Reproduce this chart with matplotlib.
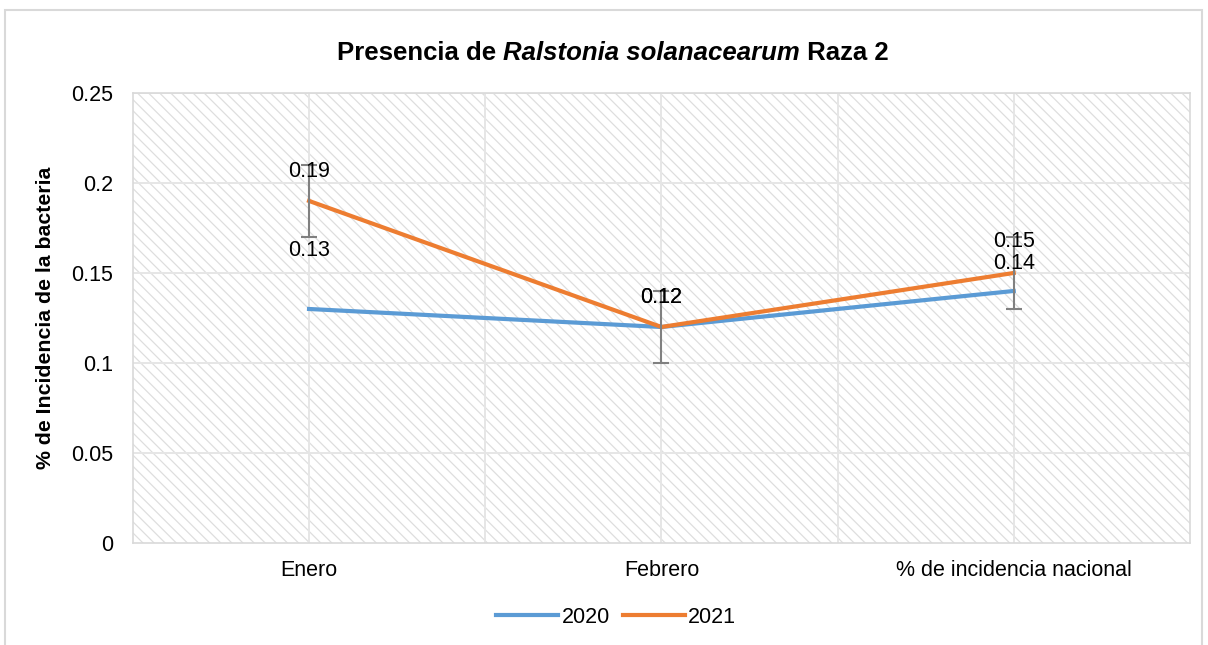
import matplotlib
matplotlib.use('Agg')
import matplotlib.pyplot as plt
from matplotlib.patches import Rectangle

# datos
categorias = ['Enero', 'Febrero', '% de incidencia nacional']
serie_2020 = [0.13, 0.12, 0.14]
serie_2021 = [0.19, 0.12, 0.15]
error_2021 = [0.02, 0.02, 0.02]
yticks = [0, 0.05, 0.1, 0.15, 0.2, 0.25]
ytick_labels = ['0', '0.05', '0.1', '0.15', '0.2', '0.25']

plt.rcParams['font.family'] = ['Liberation Sans', 'DejaVu Sans']
plt.rcParams['hatch.color'] = '#dedede'
plt.rcParams['hatch.linewidth'] = 0.9

azul = '#5B9BD5'
naranja = '#ED7D31'
gris = '#d9d9d9'
fs = 15.5

fig = plt.figure(figsize=(12.08, 6.45), dpi=100)
ax = fig.add_axes([0.110, 0.158, 0.875, 0.698])

# marco de la figura
fig.patches.append(Rectangle((0.004, -0.02), 0.991, 1.005, transform=fig.transFigure,
                             fill=False, edgecolor=gris, linewidth=1.5))

# fondo rayado
ax.patch.set_facecolor('white')
ax.patch.set_hatch('\\\\\\')
ax.patch.set_edgecolor('#dedede')

x = list(range(len(categorias)))

# rejilla
for yv in yticks[1:]:
    ax.axhline(yv, color='#e6e6e6', linewidth=1.4, zorder=1)
for xv in [0, 0.5, 1, 1.5, 2]:
    ax.axvline(xv, color='#e6e6e6', linewidth=1.4, zorder=1)

ax.plot(x, serie_2020, color=azul, linewidth=3, label='2020', zorder=3)
ax.plot(x, serie_2021, color=naranja, linewidth=3, label='2021', zorder=4)
ax.errorbar(x, serie_2021, yerr=error_2021, fmt='none', ecolor='#808080',
            elinewidth=1.5, capsize=6, capthick=1.5, zorder=5)

# etiquetas de datos
offsets_2020 = [42, 21, 20]
offsets_2021 = [21, 21, 22.5]
for xi, v, off in zip(x, serie_2020, offsets_2020):
    ax.annotate(f'{v:g}', (xi, v), xytext=(0, off), textcoords='offset points',
                ha='center', va='center', fontsize=fs, zorder=6)
for xi, v, off in zip(x, serie_2021, offsets_2021):
    ax.annotate(f'{v:g}', (xi, v), xytext=(0, off), textcoords='offset points',
                ha='center', va='center', fontsize=fs, zorder=6)

ax.set_xlim(-0.5, 2.5)
ax.set_ylim(0, 0.25)
ax.set_xticks(x)
ax.set_xticklabels(categorias, fontsize=fs)
ax.set_yticks(yticks)
ax.set_yticklabels(ytick_labels, fontsize=fs)
ax.tick_params(length=0, pad=14)
ax.tick_params(axis='x', pad=12)
for s in ax.spines.values():
    s.set_color(gris)
    s.set_linewidth(1.2)

ax.set_ylabel('% de Incidencia de la bacteria', fontsize=15.3, fontweight='bold', labelpad=12)

# titulo con parte en cursiva
fig.canvas.draw()
r = fig.canvas.get_renderer()
partes = [('Presencia de ', 'normal'), ('Ralstonia solanacearum', 'italic'), (' Raza 2', 'normal')]
textos = []
ancho = 0
for txt, st in partes:
    t = fig.text(0, 0.918, txt, fontsize=18.5, fontweight='bold', style=st, va='center')
    textos.append(t)
    ancho += t.get_window_extent(r).width
x0 = 613 - ancho / 2
for t in textos:
    t.set_x(x0 / fig.bbox.width)
    x0 += t.get_window_extent(r).width

fig.legend(*ax.get_legend_handles_labels(), loc='center', bbox_to_anchor=(0.51, 0.043),
           ncol=2, frameon=False, fontsize=fs, handlelength=2.9, handletextpad=0.15,
           columnspacing=0.6)

fig.savefig('out.png', dpi=100)
